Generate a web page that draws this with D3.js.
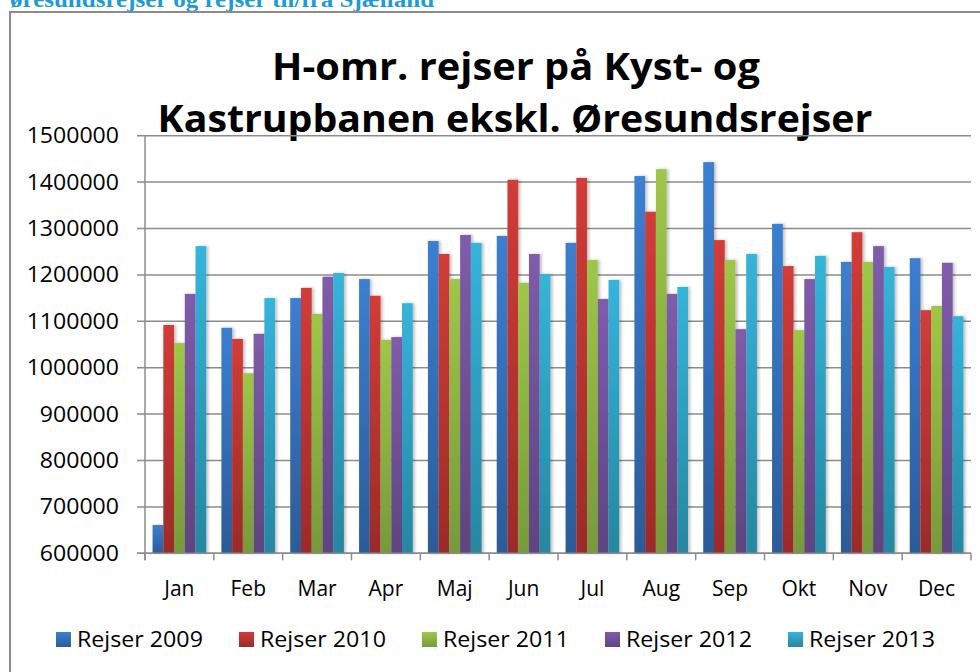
<!DOCTYPE html>
<html>
<head>
<meta charset="utf-8">
<script src="https://cdn.jsdelivr.net/npm/d3@7"></script>
<style>
  body { margin: 0; background: #fff; }
  svg { display: block; }
  text { font-family: "Open Sans", "DejaVu Sans", sans-serif; fill: #000; }
</style>
</head>
<body>
<div id="chart"></div>
<script>
// Months on the x axis
const months = ['Jan', 'Feb', 'Mar', 'Apr', 'Maj', 'Jun', 'Jul', 'Aug', 'Sep', 'Okt', 'Nov', 'Dec'];

// One array per year
const rejser2009 = [661000, 1086000, 1150000, 1191000, 1273000, 1284000, 1269000, 1413000, 1443000, 1310000, 1228000, 1236000];
const rejser2010 = [1092000, 1062000, 1172000, 1155000, 1245000, 1405000, 1409000, 1336000, 1275000, 1219000, 1292000, 1124000];
const rejser2011 = [1053000, 988000, 1116000, 1060000, 1191000, 1183000, 1232000, 1428000, 1232000, 1081000, 1228000, 1133000];
const rejser2012 = [1159000, 1073000, 1196000, 1066000, 1286000, 1245000, 1148000, 1159000, 1083000, 1191000, 1262000, 1226000];
const rejser2013 = [1262000, 1150000, 1204000, 1139000, 1269000, 1202000, 1189000, 1174000, 1245000, 1241000, 1217000, 1111000];

const seriesNames = ['Rejser 2009', 'Rejser 2010', 'Rejser 2011', 'Rejser 2012', 'Rejser 2013'];
const seriesValues = [rejser2009, rejser2010, rejser2011, rejser2012, rejser2013];

// y ticks
const yTicks = [600000, 700000, 800000, 900000, 1000000, 1100000, 1200000, 1300000, 1400000, 1500000];

// gradient colours (top, bottom) per series
const colorsTop = ['#3c7fd0', '#d23c38', '#9ec748', '#7f5caa', '#36b4da'];
const colorsBottom = ['#2c5b98', '#9b2b29', '#77993a', '#5e4480', '#2587a1'];

const W = 980, H = 672;
const plot = { left: 145, right: 971, top: 135.7, bottom: 553.3 };

const svg = d3.select('#chart').append('svg')
  .attr('width', W)
  .attr('height', H);

const defs = svg.append('defs');
seriesNames.forEach((name, i) => {
  const g = defs.append('linearGradient')
    .attr('id', 'grad' + i)
    .attr('x1', 0).attr('y1', 0).attr('x2', 0).attr('y2', 1);
  g.append('stop').attr('offset', '0%').attr('stop-color', colorsTop[i]);
  g.append('stop').attr('offset', '100%').attr('stop-color', colorsBottom[i]);
});
const shadow = defs.append('filter').attr('id', 'shadow')
  .attr('x', '-20%').attr('y', '-5%').attr('width', '160%').attr('height', '110%');
shadow.append('feDropShadow')
  .attr('dx', 2).attr('dy', 0).attr('stdDeviation', 1.5)
  .attr('flood-color', '#000').attr('flood-opacity', 0.25);

// helper: put text and stretch it horizontally to a target width
function fitText(parent, str, x, y, size, weight, targetWidth, anchor) {
  const g = parent.append('g').attr('transform', `translate(${x},${y})`);
  const t = g.append('text')
    .attr('font-size', size)
    .attr('font-weight', weight)
    .attr('text-anchor', anchor || 'start')
    .text(str);
  if (targetWidth) {
    const w = t.node().getComputedTextLength();
    t.attr('transform', `scale(${targetWidth / w},1)`);
  }
  return t;
}

// blue heading cut off at the top
fitText(svg, 'øresundsrejser og rejser til/fra Sjælland', 10, 7, 24, 'bold', 495)
  .style('font-family', '"Liberation Serif", "DejaVu Serif", serif')
  .style('fill', '#1b9bd7');

// chart frame
svg.append('rect')
  .attr('x', 10).attr('y', 12)
  .attr('width', 1000).attr('height', 700)
  .attr('fill', 'none')
  .attr('stroke', '#8c8c8c')
  .attr('stroke-width', 2);

// title
fitText(svg, 'H-omr. rejser på Kyst- og', 516, 80, 38, 'bold', 488, 'middle');
fitText(svg, 'Kastrupbanen ekskl. Øresundsrejser', 515, 132, 38, 'bold', 715, 'middle');

// scales
const x0 = d3.scaleBand()
  .domain(months)
  .range([plot.left, plot.right])
  .paddingInner(0.22)
  .paddingOuter(0.11);

const x1 = d3.scaleBand()
  .domain(d3.range(seriesNames.length))
  .range([0, x0.bandwidth()]);

const y = d3.scaleLinear()
  .domain([600000, 1500000])
  .range([plot.bottom, plot.top]);

// grid lines
svg.append('g')
  .selectAll('line')
  .data(yTicks)
  .join('line')
  .attr('x1', plot.left - 8)
  .attr('x2', plot.right)
  .attr('y1', d => y(d))
  .attr('y2', d => y(d))
  .attr('stroke', '#8c8c8c')
  .attr('stroke-width', 1.5);

// y axis labels
const yLabels = svg.append('g');
yTicks.forEach(d => {
  const s = String(d);
  fitText(yLabels, s, 119, y(d) + 7.5, 21, 'normal', s.length * 13.2, 'end');
});

// bars
const groups = svg.append('g')
  .selectAll('g')
  .data(months)
  .join('g')
  .attr('transform', d => `translate(${x0(d)},0)`);

groups.selectAll('rect')
  .data((m, mi) => seriesValues.map((vals, si) => ({ si, v: vals[mi] })))
  .join('rect')
  .attr('x', d => x1(d.si))
  .attr('width', x1.bandwidth())
  .attr('y', d => y(d.v))
  .attr('height', d => y(600000) - y(d.v))
  .attr('fill', d => `url(#grad${d.si})`)
  .attr('filter', 'url(#shadow)');

// axes lines
const step = x0.step();
svg.append('line')
  .attr('x1', plot.left).attr('x2', plot.left)
  .attr('y1', plot.top).attr('y2', plot.bottom + 7)
  .attr('stroke', '#8c8c8c').attr('stroke-width', 1.5);
svg.append('line')
  .attr('x1', plot.left - 8).attr('x2', plot.right)
  .attr('y1', plot.bottom).attr('y2', plot.bottom)
  .attr('stroke', '#8c8c8c').attr('stroke-width', 1.5);
svg.append('g')
  .selectAll('line')
  .data(d3.range(months.length + 1))
  .join('line')
  .attr('x1', i => plot.left + i * step)
  .attr('x2', i => plot.left + i * step)
  .attr('y1', plot.bottom)
  .attr('y2', plot.bottom + 7)
  .attr('stroke', '#8c8c8c').attr('stroke-width', 1.5);

// month labels
svg.append('g')
  .selectAll('text')
  .data(months)
  .join('text')
  .attr('x', d => x0(d) + x0.bandwidth() / 2)
  .attr('y', 596)
  .attr('text-anchor', 'middle')
  .attr('font-size', 21)
  .text(d => d);

// legend
const legend = svg.append('g');
seriesNames.forEach((name, i) => {
  const g = legend.append('g')
    .attr('transform', `translate(${56 + i * 183},632)`);
  g.append('rect')
    .attr('width', 15).attr('height', 15)
    .attr('fill', `url(#grad${i})`);
  fitText(g, name, 21, 15, 21, 'normal', 126);
});
</script>
</body>
</html>
